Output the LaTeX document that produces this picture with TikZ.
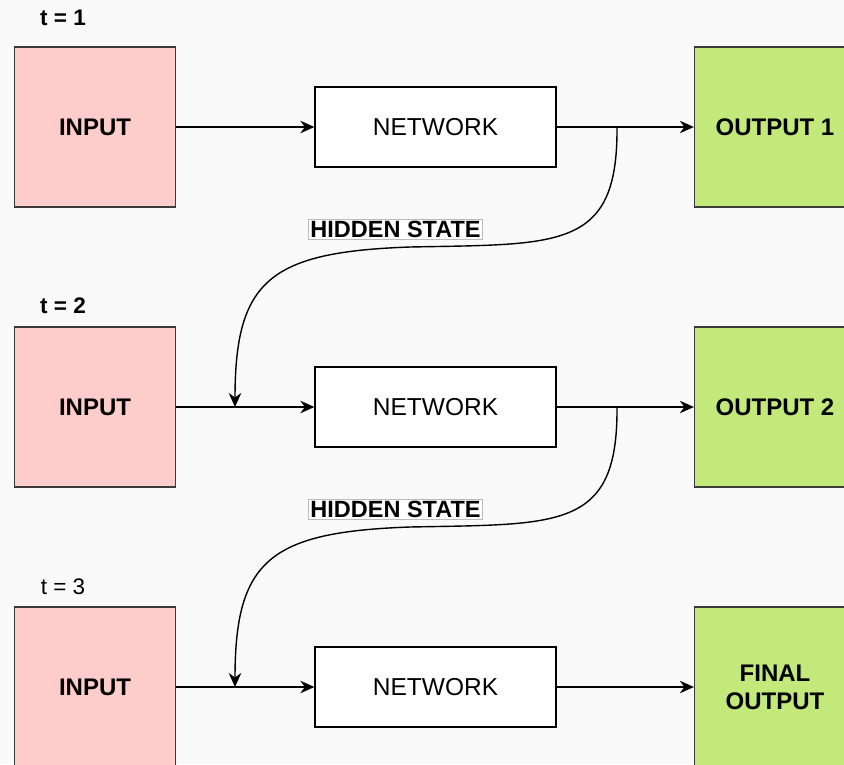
\documentclass[tikz,border=0pt]{standalone}
\usepackage{fontspec}
\setmainfont{Liberation Sans}
\usetikzlibrary{arrows.meta}
\definecolor{bgcol}{HTML}{F9F9F9}
\definecolor{incol}{HTML}{FFCCCC}
\definecolor{outcol}{HTML}{C2E97A}
\definecolor{edgecol}{HTML}{3A3A3A}
\definecolor{lblframe}{HTML}{BBBBBB}

\begin{document}
\begin{tikzpicture}[x=1pt,y=-1pt,
  box/.style={draw=edgecol, line width=1.3pt, minimum width=161pt, minimum height=160pt,
    inner sep=0pt, align=center, font=\fontsize{24}{28}\selectfont\bfseries},
  inbox/.style={box, fill=incol},
  outbox/.style={box, fill=outcol},
  netbox/.style={draw=black, line width=1.3pt, fill=white, minimum width=241pt,
    minimum height=80pt, inner sep=0pt, font=\fontsize{24.5}{28}\selectfont},
  flow/.style={line width=1.4pt, -{Stealth[length=14pt,width=12.5pt,inset=4.5pt]}},
  timelbl/.style={font=\fontsize{22.5}{26}\selectfont\bfseries},
  timelblplain/.style={font=\fontsize{22.5}{26}\selectfont},
  statelbl/.style={draw=lblframe, line width=0.7pt, fill=white, inner sep=2pt,
    font=\fontsize{23.5}{28}\selectfont\bfseries}
]
\clip (0,0) rectangle (844,764);
\fill[bgcol] (0,0) rectangle (844,764);

% time step labels
\node[timelbl] (t1) at (63,18) {t = 1};
\node[timelbl] (t2) at (63,306) {t = 2};
\node[timelblplain] (t3) at (63,587) {t = 3};

% row 1
\node[inbox]  (in1)  at (95,127)  {INPUT};
\node[netbox] (net1) at (435.5,127) {NETWORK};
\node[outbox] (out1) at (775,127) {OUTPUT 1};
% row 2
\node[inbox]  (in2)  at (95,407)  {INPUT};
\node[netbox] (net2) at (435.5,407) {NETWORK};
\node[outbox] (out2) at (775,407) {OUTPUT 2};
% row 3
\node[inbox]  (in3)  at (95,687)  {INPUT};
\node[netbox] (net3) at (435.5,687) {NETWORK};
\node[outbox] (out3) at (775,687) {FINAL\\OUTPUT};

% forward connections
\foreach \r in {1,2,3}{
  \draw[flow] (in\r.east) -- (net\r.west);
  \draw[flow] (net\r.east) -- (out\r.west);
}

% hidden state hand-over points
\coordinate (h1) at (617,127);
\coordinate (j2) at (235,407);
\coordinate (h2) at (617,407);
\coordinate (j3) at (235,687);

% hidden state connectors
\draw[flow] (h1) .. controls (618,250) and (560,244) .. (410,247)
                 .. controls (270,252) and (235,280) .. (j2);
\draw[flow] (h2) .. controls (618,530) and (560,524) .. (410,527)
                 .. controls (270,532) and (235,560) .. (j3);

\node[statelbl] (s1) at (395.5,229.5) {HIDDEN STATE};
\node[statelbl] (s2) at (395.5,509.5) {HIDDEN STATE};
\end{tikzpicture}
\end{document}
